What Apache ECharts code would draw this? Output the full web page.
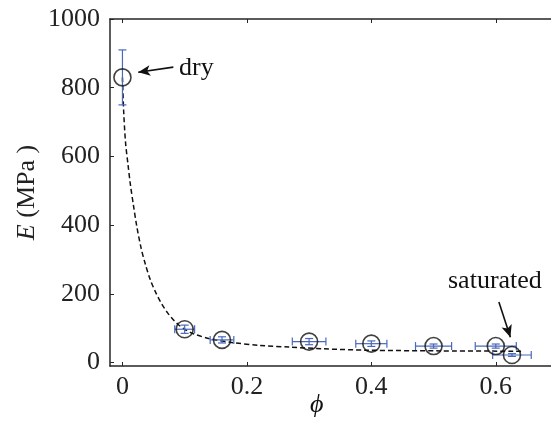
<!DOCTYPE html>
<html>
<head>
<meta charset="utf-8">
<script src="https://cdn.jsdelivr.net/npm/echarts@6/dist/echarts.min.js"></script>
<style>
  html, body { margin: 0; padding: 0; background: #fff; }
  #chart { width: 551px; height: 421px; }
</style>
</head>
<body>
<div id="chart"></div>
<script>
// measured points: porosity phi vs modulus E (MPa)
const phi = [0, 0.1, 0.16, 0.3, 0.4, 0.5, 0.6, 0.626];
const modulus = [830, 97, 66, 61, 55, 48, 48, 22];
const modulusErr = [80, 12, 9, 9, 8, 6, 6, 4];
const phiErr = [0, 0.016, 0.019, 0.027, 0.025, 0.029, 0.033, 0.031];

// dashed fit curve
const fitPhi = [0, 0.002, 0.005, 0.009, 0.013, 0.0175, 0.023, 0.03, 0.037, 0.045, 0.054, 0.063,
  0.072, 0.081, 0.09, 0.1, 0.114, 0.141, 0.178, 0.221, 0.269, 0.323, 0.393, 0.511, 0.645];
const fitE = [830, 730, 640, 575, 515, 460, 397, 333, 285, 240, 202, 171,
  146, 126, 110, 97, 84, 69, 58, 50, 45, 40, 36, 34, 33];

const xTicks = [0, 0.2, 0.4, 0.6];
const yTicks = [0, 200, 400, 600, 800, 1000];

const FONT = 'Liberation Serif, DejaVu Serif, serif';
const AXIS = '#262626';
const BLUE = '#4a69bd';

const chart = echarts.init(document.getElementById('chart'));

const tickStyle = {inside: true, length: 4, lineStyle: {color: AXIS, width: 1}};

chart.setOption({
  animation: false,
  grid: {left: 110, top: 19, right: -7, bottom: 55, outerBoundsMode: 'none', containLabel: false},
  xAxis: [{
    type: 'value', min: -0.02, max: 0.7,
    axisLine: {onZero: false, lineStyle: {color: AXIS, width: 1.5}},
    axisTick: Object.assign({customValues: xTicks}, tickStyle),
    axisLabel: {customValues: xTicks, margin: 8, color: '#222', fontFamily: FONT, fontSize: 26,
      formatter: v => String(v)},
    splitLine: {show: false}
  }, {
    type: 'value', position: 'top', min: -0.02, max: 0.7,
    axisLine: {onZero: false, lineStyle: {color: AXIS, width: 1.5}},
    axisTick: Object.assign({customValues: xTicks}, tickStyle),
    axisLabel: {show: false},
    splitLine: {show: false}
  }],
  yAxis: [{
    type: 'value', min: -10, max: 1000,
    name: '{i|E} (MPa )',
    nameLocation: 'middle', nameGap: 70, nameMoveOverlap: false,
    nameTextStyle: {
      color: '#222', fontFamily: FONT, fontSize: 26,
      rich: {i: {fontStyle: 'italic', fontFamily: FONT, fontSize: 26, color: '#222'}}
    },
    axisLine: {onZero: false, lineStyle: {color: AXIS, width: 1.5}},
    axisTick: Object.assign({customValues: yTicks}, tickStyle),
    axisLabel: {customValues: yTicks, margin: 10, color: '#222', fontFamily: FONT, fontSize: 26,
      formatter: v => String(v)},
    splitLine: {show: false}
  }],
  graphic: [
    {type: 'text', left: 179, top: 55, style: {text: 'dry', fill: '#111', font: '26px ' + FONT}},
    {type: 'text', left: 448, top: 268, style: {text: 'saturated', fill: '#111', font: '26px ' + FONT}},
    {type: 'text', left: 310, top: 392, style: {text: 'ϕ', fill: '#111', font: 'italic 26px ' + FONT}}
  ],
  series: [
    {
      type: 'line',
      data: fitPhi.map((p, i) => [p, fitE[i]]),
      showSymbol: false,
      smooth: 0.3,
      lineStyle: {color: '#111', width: 1.5, type: [5, 3]},
      z: 1
    },
    {
      type: 'custom',
      data: phi.map((p, i) => [p, modulus[i], modulusErr[i], phiErr[i]]),
      encode: {x: 0, y: 1},
      renderItem: (params, api) => {
        const x = api.value(0), y = api.value(1), ey = api.value(2), ex = api.value(3);
        const top = api.coord([x, y + ey]);
        const bot = api.coord([x, y - ey]);
        const style = {stroke: BLUE, lineWidth: 1.2};
        const cap = 4;
        const children = [
          {type: 'line', shape: {x1: top[0], y1: top[1], x2: bot[0], y2: bot[1]}, style},
          {type: 'line', shape: {x1: top[0] - cap, y1: top[1], x2: top[0] + cap, y2: top[1]}, style},
          {type: 'line', shape: {x1: bot[0] - cap, y1: bot[1], x2: bot[0] + cap, y2: bot[1]}, style}
        ];
        if (ex > 0) {
          const l = api.coord([x - ex, y]);
          const r = api.coord([x + ex, y]);
          children.push(
            {type: 'line', shape: {x1: l[0], y1: l[1], x2: r[0], y2: r[1]}, style},
            {type: 'line', shape: {x1: l[0], y1: l[1] - cap, x2: l[0], y2: l[1] + cap}, style},
            {type: 'line', shape: {x1: r[0], y1: r[1] - cap, x2: r[0], y2: r[1] + cap}, style}
          );
        }
        return {type: 'group', children};
      },
      z: 2
    },
    {
      type: 'scatter',
      data: phi.map((p, i) => [p, modulus[i]]),
      symbol: 'circle',
      symbolSize: 17,
      itemStyle: {color: 'rgba(0,0,0,0)', borderColor: '#111', borderWidth: 1.6},
      z: 3,
      markLine: {
        silent: true,
        symbol: ['none', 'arrow'],
        symbolSize: [8, 12],
        label: {show: false},
        lineStyle: {color: '#111', width: 1.6, type: 'solid'},
        data: [
          [{coord: [0.0818, 860]}, {coord: [0.0254, 845]}],
          [{coord: [0.605, 176]}, {coord: [0.6235, 74]}]
        ]
      }
    }
  ]
});
</script>
</body>
</html>
